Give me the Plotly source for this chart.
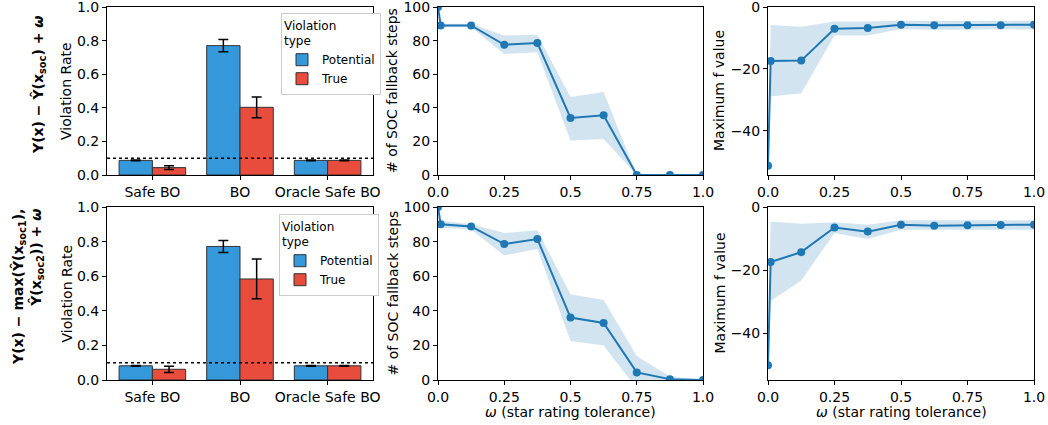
import plotly.graph_objects as go

# ---------------- data ----------------
methods = ["Safe BO", "BO", "Oracle Safe BO"]

# row 1 : Y(x) - Yhat(x_soc) + w
pot_r1 = [0.087, 0.770, 0.087]
pot_r1_err = [0.002, 0.036, 0.002]
true_r1 = [0.044, 0.403, 0.087]
true_r1_err = [0.011, 0.062, 0.002]

# row 2 : Y(x) - max(Yhat(x_soc1), Yhat(x_soc2)) + w
pot_r2 = [0.082, 0.772, 0.082]
pot_r2_err = [0.002, 0.035, 0.002]
true_r2 = [0.062, 0.584, 0.082]
true_r2_err = [0.018, 0.115, 0.002]

threshold = 0.1

omega = [0.0, 0.01, 0.125, 0.25, 0.375, 0.5, 0.625, 0.75, 0.875, 1.0]
omega_ticks = [0.0, 0.25, 0.5, 0.75, 1.0]
omega_ticktext = ["0.0", "0.25", "0.5", "0.75", "1.0"]

fb_r1 = [100, 89, 89, 77.5, 78.5, 34, 35.5, 0, 0, 0]
fb_r1_lo = [100, 88, 88, 72, 73, 20.6, 21.5, 0, 0, 0]
fb_r1_hi = [100, 90, 90, 83, 83.5, 46.4, 49.4, 0, 0, 0]

fb_r2 = [100, 90, 88.8, 78.6, 81.5, 36.1, 33, 4.4, 0.5, 0]
fb_r2_lo = [100, 88, 87, 72, 75.7, 22.6, 19.9, -5, -1, 0]
fb_r2_hi = [100, 92, 90, 85, 86.5, 49.6, 46.3, 13.9, 2, 0]

mf_r1 = [-51.2, -17.4, -17.3, -7.0, -6.8, -5.7, -5.9, -5.9, -5.9, -5.7]
mf_r1_lo = [-51.2, -28.9, -27.8, -9.2, -9.2, -7.1, -7.3, -7.3, -7.3, -7.2]
mf_r1_hi = [-51.2, -5.8, -6.4, -4.7, -4.7, -4.4, -4.5, -4.5, -4.5, -4.4]

mf_r2 = [-50.1, -17.4, -14.3, -6.5, -7.8, -5.6, -5.9, -5.8, -5.7, -5.6]
mf_r2_lo = [-50.1, -29.8, -23.3, -8.2, -10.1, -7.2, -7.2, -7.2, -7.2, -7.2]
mf_r2_hi = [-50.1, -4.6, -5.3, -4.8, -5.6, -4.2, -4.2, -4.2, -4.2, -4.2]

# ---------------- styles ----------------
W, H = 1048, 425
BLUE_BAR = "#3498db"
RED_BAR = "#e74c3c"
LINE = "#1f77b4"
BAND = "rgba(31,119,180,0.2)"
FONT = "DejaVu Sans"


def px_x(p):
    return p / W


def px_y(p):
    return 1 - p / H


cols = [(107, 373), (438, 703), (768, 1034)]
rows = [(7, 175), (207, 380)]

fig = go.Figure()

axis_common = dict(
    showline=True, mirror=True, linecolor="black", linewidth=1,
    ticks="outside", ticklen=4, tickwidth=1, tickcolor="black",
    showgrid=False, zeroline=False, automargin=False,
    ticklabeloverflow="allow",
    tickfont=dict(family=FONT, size=14, color="black"),
)

layout = dict()
ax_idx = 0
for r, (yt, yb) in enumerate(rows):
    for c, (xl, xr) in enumerate(cols):
        ax_idx += 1
        sx = "" if ax_idx == 1 else str(ax_idx)
        layout["xaxis" + sx] = dict(domain=[px_x(xl), px_x(xr)], anchor="y" + sx, **axis_common)
        layout["yaxis" + sx] = dict(domain=[px_y(yb), px_y(yt)], anchor="x" + sx, **axis_common)

# bar axes
for sx in ["", "4"]:
    layout["xaxis" + sx].update(type="category", range=[-0.518, 2.518])
    layout["yaxis" + sx].update(range=[0, 1], dtick=0.2, tickformat=".1f")
# fallback axes
for sx in ["2", "5"]:
    layout["xaxis" + sx].update(range=[0, 1], tickvals=omega_ticks, ticktext=omega_ticktext)
    layout["yaxis" + sx].update(range=[0, 100], dtick=20)
# max f axes
layout["xaxis3"].update(range=[0, 1], tickvals=omega_ticks, ticktext=omega_ticktext)
layout["xaxis6"].update(range=[0, 1], tickvals=omega_ticks, ticktext=omega_ticktext)
layout["yaxis3"].update(range=[-54.2, 0], tickvals=[0, -20, -40])
layout["yaxis6"].update(range=[-54.8, 0], tickvals=[0, -20, -40])

# ---------------- bars ----------------
bar_sets = [
    ("x", "y", "legend", pot_r1, pot_r1_err, true_r1, true_r1_err),
    ("x4", "y4", "legend2", pot_r2, pot_r2_err, true_r2, true_r2_err),
]
for xa, ya, lg, pv, pe, tv, te in bar_sets:
    for name, vals, errs, col in [("Potential", pv, pe, BLUE_BAR), ("True", tv, te, RED_BAR)]:
        fig.add_trace(go.Bar(
            x=methods, y=vals, name=name, xaxis=xa, yaxis=ya, legend=lg,
            marker=dict(color=col, line=dict(color="#333333", width=1)),
            error_y=dict(type="data", array=errs, color="black", thickness=1.5, width=5),
        ))
    fig.add_shape(type="line", xref=xa + " domain", yref=ya, x0=0, x1=1,
                  y0=threshold, y1=threshold,
                  line=dict(color="black", width=1.5, dash="dot"))

# ---------------- line panels ----------------
line_sets = [
    ("x2", "y2", fb_r1, fb_r1_lo, fb_r1_hi),
    ("x5", "y5", fb_r2, fb_r2_lo, fb_r2_hi),
    ("x3", "y3", mf_r1, mf_r1_lo, mf_r1_hi),
    ("x6", "y6", mf_r2, mf_r2_lo, mf_r2_hi),
]
for xa, ya, mid, lo, hi in line_sets:
    fig.add_trace(go.Scatter(x=omega, y=hi, xaxis=xa, yaxis=ya, mode="lines",
                             line=dict(width=0, color=BAND), showlegend=False, hoverinfo="skip"))
    fig.add_trace(go.Scatter(x=omega, y=lo, xaxis=xa, yaxis=ya, mode="lines",
                             line=dict(width=0, color=BAND), fill="tonexty", fillcolor=BAND,
                             showlegend=False, hoverinfo="skip"))
    fig.add_trace(go.Scatter(x=omega, y=mid, xaxis=xa, yaxis=ya, mode="lines+markers",
                             line=dict(color=LINE, width=2), marker=dict(color=LINE, size=8),
                             showlegend=False))

# ---------------- annotations ----------------
ann = []


def add_text(text, x, y, size=14, angle=0, align="center"):
    ann.append(dict(text=text, x=px_x(x), y=px_y(y), xref="paper", yref="paper",
                    showarrow=False, textangle=angle, align=align,
                    xanchor="center", yanchor="middle",
                    font=dict(family=FONT, size=size, color="black")))


for (yt, yb) in rows:
    yc = (yt + yb) / 2
    add_text("Violation Rate", 66, yc, angle=-90)
    add_text("# of SOC fallback steps", 392, yc, angle=-90)
    add_text("Maximum f value", 719, yc, angle=-90)

add_text("<i>ω</i> (star rating tolerance)", (cols[1][0] + cols[1][1]) / 2, 412)
add_text("<i>ω</i> (star rating tolerance)", (cols[2][0] + cols[2][1]) / 2, 412)

add_text("<b>Y(x) − Ŷ(x<sub>soc</sub>) + <i>ω</i></b>", 39, 85, size=14, angle=-90)
add_text("<b>Y(x) − max(Ŷ(x<sub>soc1</sub>),<br>Ŷ(x<sub>soc2</sub>)) + <i>ω</i></b>",
         27, 287, size=14, angle=-90, align="right")

legend_style = dict(
    bgcolor="white", bordercolor="#cccccc", borderwidth=1,
    font=dict(family=FONT, size=12, color="black"),
    title=dict(text="Violation<br>type", font=dict(family=FONT, size=12, color="black")),
    xanchor="left", yanchor="top", tracegroupgap=0, traceorder="normal",
)

fig.update_layout(
    width=W, height=H,
    margin=dict(l=0, r=0, t=0, b=0, autoexpand=False),
    paper_bgcolor="white", plot_bgcolor="white",
    barmode="group", bargap=0.24, bargroupgap=0,
    font=dict(family=FONT, size=14, color="black"),
    annotations=ann,
    legend=dict(x=px_x(281), y=px_y(13), **legend_style),
    legend2=dict(x=px_x(279), y=px_y(214), **legend_style),
    **layout,
)

fig.write_html("out.html", config={"displayModeBar": False},
               post_script="document.body.style.margin='0px';")
